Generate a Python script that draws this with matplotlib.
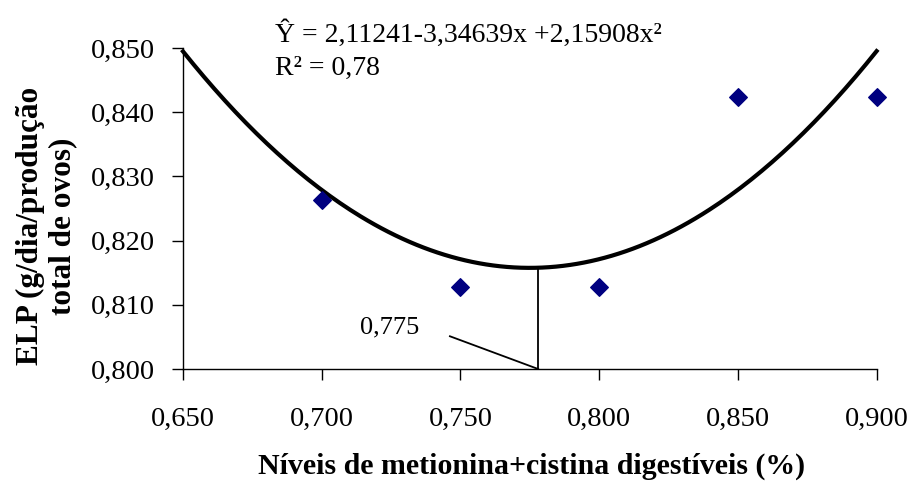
import numpy as np
import matplotlib
matplotlib.use("Agg")
import matplotlib.pyplot as plt

# Data
x_levels = [0.70, 0.75, 0.80, 0.85, 0.90]
elp_values = [0.8263, 0.8128, 0.8128, 0.8424, 0.8424]
coef = [2.11241, -3.34639, 2.15908]  # a, b, c of the fitted quadratic
x_opt = 0.778
x_ticks = [0.650, 0.700, 0.750, 0.800, 0.850, 0.900]
y_ticks = [0.800, 0.810, 0.820, 0.830, 0.840, 0.850]

plt.rcParams['font.family'] = ['Liberation Serif', 'DejaVu Serif']

fig = plt.figure(figsize=(9.16, 4.84), dpi=100)
ax = fig.add_axes([0.1998, 0.2376, 0.957 - 0.1998, 0.9008 - 0.2376])

xs = np.linspace(x_ticks[0], x_ticks[-1], 200)
ys = coef[0] + coef[1] * xs + coef[2] * xs ** 2
ax.plot(xs, ys, color='black', lw=3, zorder=2, clip_on=False)
ax.scatter(x_levels, elp_values, marker='D', s=80, color='#000080', zorder=3, clip_on=False)

y_at_opt = coef[0] + coef[1] * x_opt + coef[2] * x_opt ** 2
ax.plot([x_opt, x_opt], [y_ticks[0], y_at_opt], color='black', lw=1.3)
ax.plot([0.7462, x_opt], [0.8051, y_ticks[0]], color='black', lw=1.3)
ax.text(0.7246, 0.8064, '0,775', fontsize=19, ha='center', va='center')

ax.text(0.6832, 0.8521, 'Ŷ = 2,11241-3,34639x +2,15908x²', fontsize=20, ha='left', va='center')
ax.text(0.6832, 0.8468, 'R² = 0,78', fontsize=20, ha='left', va='center')

ax.set_xlim(x_ticks[0], x_ticks[-1])
ax.set_ylim(y_ticks[0], y_ticks[-1])
ax.set_xticks(x_ticks)
ax.set_yticks(y_ticks)
ax.set_xticklabels([f"{v:.3f}".replace('.', ',') for v in x_ticks], fontsize=20.5)
ax.set_yticklabels([f"{v:.3f}".replace('.', ',') for v in y_ticks], fontsize=20.5)
ax.tick_params(direction='out', length=8, width=1)
ax.tick_params(axis='y', pad=12)
ax.tick_params(axis='x', pad=19)
for s in ['top', 'right']:
    ax.spines[s].set_visible(False)
for s in ['left', 'bottom']:
    ax.spines[s].set_linewidth(1)

fig.text(0.051, 0.533, 'ELP (g/dia/produção\ntotal de ovos)', rotation=90,
         fontsize=22.5, fontweight='bold', ha='center', va='center', linespacing=1.15)
fig.text(0.58, 0.036, 'Níveis de metionina+cistina digestíveis (%)',
         fontsize=21.5, fontweight='bold', ha='center', va='center')

fig.savefig('out.png', dpi=100)
